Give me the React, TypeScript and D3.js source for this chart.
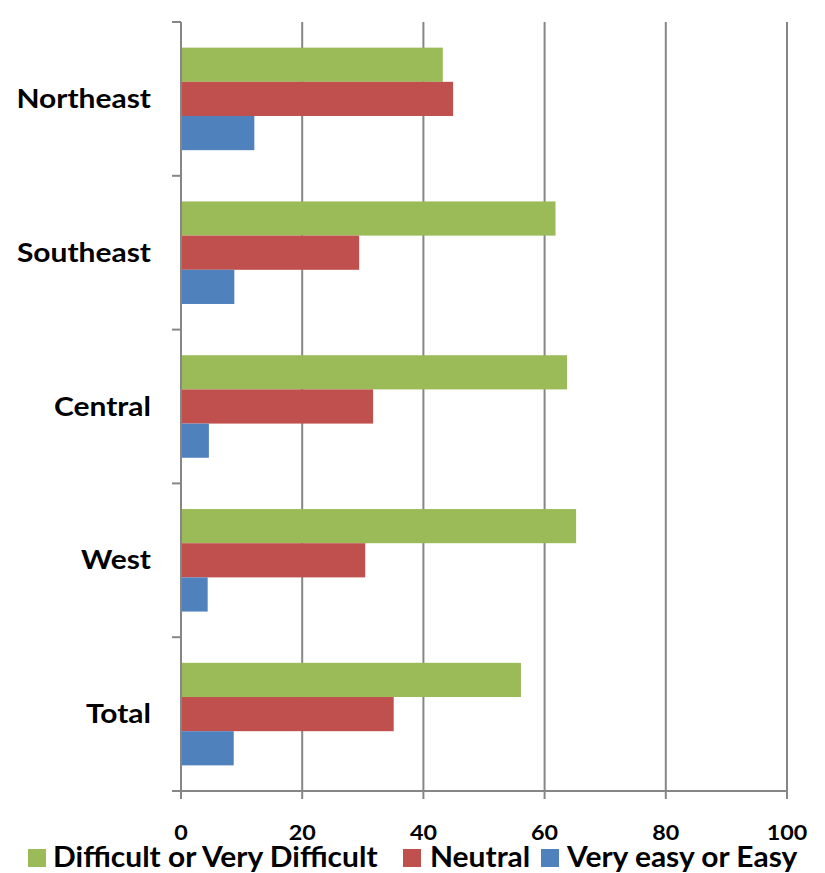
import React from "react";
import * as d3 from "d3";

const categories = ["Northeast", "Southeast", "Central", "West", "Total"];
const seriesNames = ["Difficult or Very Difficult", "Neutral", "Very easy or Easy"];
const seriesColors = ["#9BBB59", "#C0504D", "#4F81BD"];
const difficult = [43.2, 61.8, 63.7, 65.2, 56.1];
const neutral = [44.9, 29.4, 31.7, 30.4, 35.1];
const easy = [12.1, 8.8, 4.6, 4.4, 8.7];
const xTicks = [0, 20, 40, 60, 80, 100];

const W = 825;
const H = 873;
const left = 181;
const right = 787;
const top = 22;
const bottom = 791;
const FONT = "Lato, 'Open Sans', sans-serif";

function WideText({ x, y, anchor, size, sx, children }: { x: number; y: number; anchor?: string; size: number; sx: number; children: React.ReactNode }) {
  return (
    <text
      transform={`translate(${x},${y}) scale(${sx},1)`}
      textAnchor={anchor || "start"}
      fontFamily={FONT}
      fontWeight="bold"
      fontSize={size}
      fill="#000"
    >
      {children}
    </text>
  );
}

export default function App() {
  const x = d3.scaleLinear().domain([0, 100]).range([left, right]);
  const y = d3.scaleBand<string>().domain(categories).range([top, bottom]);
  const series = [difficult, neutral, easy];
  const bw = y.bandwidth();
  const barH = bw / 4.5;
  const pad = barH * 0.75;
  const gridColor = "#868686";
  const legendX = [28, 403, 541];
  const legendTextX = [53, 430, 567];

  return (
    <svg width={W} height={H} style={{ display: "block", position: "absolute", left: 0, top: 0 }}>
      <rect width={W} height={H} fill="#fff" />
      {xTicks.map((t) => (
        <line key={"g" + t} x1={x(t)} x2={x(t)} y1={top} y2={bottom + 8} stroke={gridColor} strokeWidth={2} />
      ))}
      {categories.map((c, i) =>
        series.map((s, j) => (
          <rect
            key={c + j}
            x={x(0)}
            y={(y(c) as number) + pad + j * barH}
            width={x(s[i]) - x(0)}
            height={barH}
            fill={seriesColors[j]}
          />
        ))
      )}
      <line x1={left} x2={left} y1={top} y2={bottom + 8} stroke={gridColor} strokeWidth={2} />
      <line x1={left - 8} x2={right} y1={bottom} y2={bottom} stroke={gridColor} strokeWidth={2} />
      {[...categories.map((c) => y(c) as number), bottom].map((v, i) => (
        <line key={"yt" + i} x1={left - 9} x2={left} y1={v} y2={v} stroke={gridColor} strokeWidth={2} />
      ))}
      {categories.map((c) => (
        <WideText key={"l" + c} x={151} y={(y(c) as number) + bw / 2 + 9} anchor="end" size={27} sx={1.11}>
          {c}
        </WideText>
      ))}
      {xTicks.map((t) => (
        <WideText key={"xl" + t} x={x(t)} y={840} anchor="middle" size={21} sx={1.11}>
          {t}
        </WideText>
      ))}
      {seriesNames.map((n, j) => (
        <g key={"lg" + j}>
          <rect x={legendX[j]} y={849} width={18} height={18} fill={seriesColors[j]} />
          <WideText x={legendTextX[j]} y={867} size={28} sx={1.07}>
            {n}
          </WideText>
        </g>
      ))}
    </svg>
  );
}
